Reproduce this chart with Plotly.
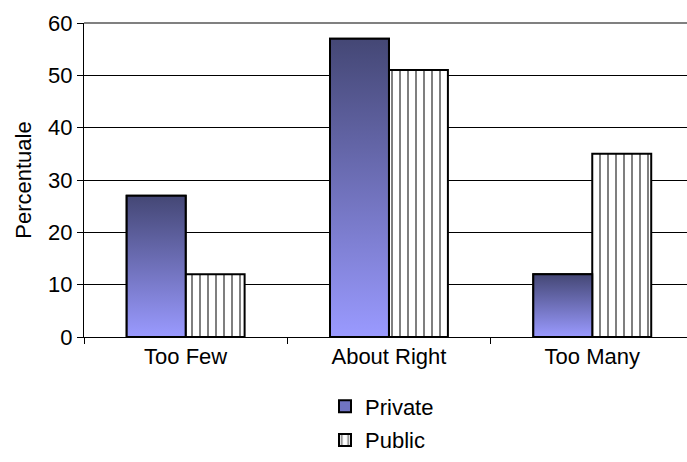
import plotly.graph_objects as go

categories = ["Too Few", "About Right", "Too Many"]
private_vals = [27, 57, 12]
public_vals = [12, 51, 35]
y_ticks = [0, 10, 20, 30, 40, 50, 60]

BARGAP = 0.42
w = (1 - BARGAP) / 2
xs = list(range(len(categories)))
FONT = dict(family="Liberation Sans, Arial, sans-serif", size=22, color="black")

fig = go.Figure()
fig.add_trace(go.Bar(
    x=xs, y=private_vals, name="Private", legendgroup="a",
    marker=dict(color="#7074c2", line=dict(color="black", width=2)),
))
fig.add_trace(go.Bar(
    x=xs, y=public_vals, name="Public", legendgroup="b",
    marker=dict(color="white", line=dict(color="black", width=2),
                pattern=dict(shape="|", size=8, solidity=0.25,
                             fgcolor="black", bgcolor="white", fillmode="overlay")),
))
# gradient overlay for the Private bars
for i, v in zip(xs, private_vals):
    fig.add_trace(go.Scatter(
        x=[i - w, i - w, i, i, i - w], y=[0, v, v, 0, 0],
        mode="lines", fill="toself", showlegend=False, hoverinfo="skip",
        line=dict(color="black", width=2),
        fillgradient=dict(type="vertical", start=0, stop=v,
                          colorscale=[[0, "#9a9aff"], [1, "#444775"]]),
    ))

fig.update_layout(
    width=687, height=462,
    margin=dict(l=84, r=0, t=23, b=125),
    paper_bgcolor="white", plot_bgcolor="white",
    font=FONT,
    barmode="group", bargap=BARGAP, bargroupgap=0,
    showlegend=True,
    legend=dict(x=(325 - 84) / 603, xanchor="left", y=(337 - 461.5) / 314, yanchor="bottom",
                orientation="v", tracegroupgap=2, font=FONT,
                itemwidth=30, bgcolor="rgba(0,0,0,0)", borderwidth=0),
    shapes=[dict(type="line", xref="paper", yref="paper", x0=0, x1=1, y0=1, y1=1,
                 line=dict(color="#808080", width=2))],
)
fig.update_xaxes(
    range=[-0.5, 2.466], tickmode="array", tickvals=xs, ticktext=categories,
    ticks="", showgrid=False, showline=True, linecolor="black", linewidth=1,
    zeroline=False, tickfont=FONT,
    minor=dict(tickmode="array", tickvals=[-0.5, 0.5, 1.5, 2.5], ticks="outside",
               ticklen=6, tickcolor="black", tickwidth=1, showgrid=False),
)
fig.update_yaxes(
    range=[0, 60], tickmode="array", tickvals=y_ticks, ticks="outside", ticklen=6,
    tickcolor="black", showgrid=True, gridcolor="black", gridwidth=1,
    showline=True, linecolor="black", linewidth=1, zeroline=False, tickfont=FONT,
    title=dict(text="Percentuale", font=FONT, standoff=10),
)

fig.write_html("out.html")
